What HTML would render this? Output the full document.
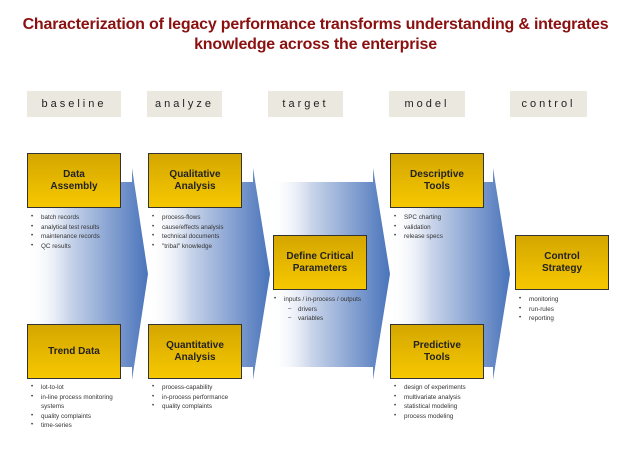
<!DOCTYPE html>
<html><head><style>
body{margin:0;width:631px;height:452px;background:#fff;position:relative;overflow:hidden;font-family:"Liberation Sans",sans-serif}
.t{position:absolute;left:0;width:631px;text-align:center;color:#8b1010;font-weight:bold;font-size:16px;line-height:20px;top:15px;white-space:nowrap;letter-spacing:-0.2px}
.h{position:absolute;top:91px;height:26px;width:76px;background:#ebe8e0;font-size:11px;letter-spacing:3px;text-align:center;line-height:26px;color:#222}
.b{position:absolute;width:92px;height:53px;border:1px solid #333;background:linear-gradient(#d4a600,#f6c800);display:flex;align-items:center;justify-content:center;text-align:center;font-weight:bold;font-size:10px;line-height:12px;color:#222}
ul{position:absolute;margin:0;padding:0 0 0 14px;font-size:6.3px;line-height:9.5px;color:#333;list-style:none}
li:before{content:"•";position:absolute;left:4px;font-size:6px}
li.d{padding-left:14px}li.d:before{content:"–";left:18px}
</style></head><body>
<div class="t">Characterization of legacy performance transforms understanding &amp; integrates<br>knowledge across the enterprise</div>
<div class="h" style="left:27px;width:94px">baseline</div>
<div class="h" style="left:147px;width:75px">analyze</div>
<div class="h" style="left:268px;width:75px">target</div>
<div class="h" style="left:389px;width:76px">model</div>
<div class="h" style="left:510px;width:77px">control</div>
<svg width="631" height="452" style="position:absolute;left:0;top:0">
<defs><linearGradient id="g" x1="0" x2="1" y1="0" y2="0"><stop offset="0" stop-color="#fff" stop-opacity="0"/><stop offset="0.35" stop-color="#c8d4ea"/><stop offset="1" stop-color="#4a74bb"/></linearGradient></defs>
<polygon points="27,182 132,182 132,168 148,274 132,380 132,367 27,367" fill="url(#g)"/>
<polygon points="148,182 253,182 253,168 270,274 253,380 253,367 148,367" fill="url(#g)"/>
<polygon points="270,182 373,182 373,168 390,274 373,380 373,367 270,367" fill="url(#g)"/>
<polygon points="390,182 493,182 493,168 510,274 493,380 493,367 390,367" fill="url(#g)"/>
</svg>
<div class="b" style="left:27px;top:153px">Data<br>Assembly</div>
<div class="b" style="left:148px;top:153px">Qualitative<br>Analysis</div>
<div class="b" style="left:273px;top:235px">Define Critical<br>Parameters</div>
<div class="b" style="left:390px;top:153px">Descriptive<br>Tools</div>
<div class="b" style="left:515px;top:235px">Control<br>Strategy</div>
<div class="b" style="left:27px;top:324px">Trend Data</div>
<div class="b" style="left:148px;top:324px">Quantitative<br>Analysis</div>
<div class="b" style="left:390px;top:324px">Predictive<br>Tools</div>
<ul style="left:27px;top:213px"><li>batch records</li><li>analytical test results</li><li>maintenance records</li><li>QC results</li></ul>
<ul style="left:148px;top:213px"><li>process-flows</li><li>cause/effects analysis</li><li>technical documents</li><li>"tribal" knowledge</li></ul>
<ul style="left:270px;top:295px"><li>inputs / in-process / outputs</li><li class="d">drivers</li><li class="d">variables</li></ul>
<ul style="left:390px;top:213px"><li>SPC charting</li><li>validation</li><li>release specs</li></ul>
<ul style="left:515px;top:295px"><li>monitoring</li><li>run-rules</li><li>reporting</li></ul>
<ul style="left:27px;top:383px;width:110px"><li>lot-to-lot</li><li>in-line process monitoring<br>systems</li><li>quality complaints</li><li>time-series</li></ul>
<ul style="left:148px;top:383px"><li>process-capability</li><li>in-process performance</li><li>quality complaints</li></ul>
<ul style="left:390px;top:383px"><li>design of experiments</li><li>multivariate analysis</li><li>statistical modeling</li><li>process modeling</li></ul>
</body></html>
